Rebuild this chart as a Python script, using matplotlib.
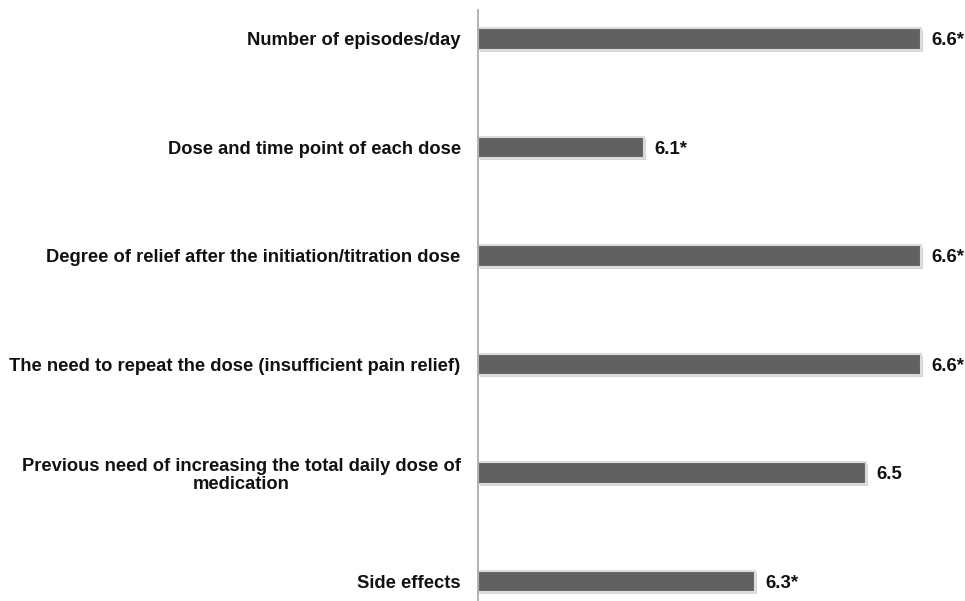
import matplotlib
matplotlib.use("Agg")
import matplotlib.pyplot as plt
import matplotlib.patheffects as pe

categories = [
    "Number of episodes/day",
    "Dose and time point of each dose",
    "Degree of relief after the initiation/titration dose",
    "The need to repeat the dose (insufficient pain relief)",
    "Previous need of increasing the total daily dose of\nmedication",
    "Side effects",
]
values = [6.6, 6.1, 6.6, 6.6, 6.5, 6.3]
value_labels = ["6.6*", "6.1*", "6.6*", "6.6*", "6.5", "6.3*"]

plt.rcParams['font.family'] = ['Liberation Sans', 'DejaVu Sans']

W, H = 965, 601
fig = plt.figure(figsize=(W / 100, H / 100), dpi=100)
left = 478 / W
ax = fig.add_axes([left, 0, 1 - left, 1 - 10 / H])

xmin = 5.8
px_per_unit = 554
ax.set_xlim(xmin, xmin + (W - 478) / px_per_unit)
ax.set_ylim(5.18, -0.267)

pos = list(range(len(categories)))
bars = ax.barh(pos, [v - xmin for v in values], left=xmin, height=0.2,
               color='#616161', edgecolor='#dcdcdc', linewidth=1.5,
               path_effects=[pe.SimplePatchShadow(offset=(1.5, -1.5), shadow_rgbFace='#bdbdbd', alpha=0.6), pe.Normal()])

for p, v, lab in zip(pos, values, value_labels):
    ax.text(v + 0.019, p, lab, ha='left', va='center_baseline', fontsize=13.4,
            fontweight='bold', color='#111111')

ax.set_yticks(pos)
ax.set_yticklabels(categories, fontsize=13.2, fontweight='bold', color='#111111',
                   ha='right', multialignment='center', linespacing=1.05)
ax.tick_params(axis='y', length=0, pad=12.5)

ax.set_xticks([])
for s in ['top', 'right', 'bottom']:
    ax.spines[s].set_visible(False)
ax.spines['left'].set_color('#a6a6a6')
ax.spines['left'].set_linewidth(1.2)

fig.savefig('out.png', dpi=100)
